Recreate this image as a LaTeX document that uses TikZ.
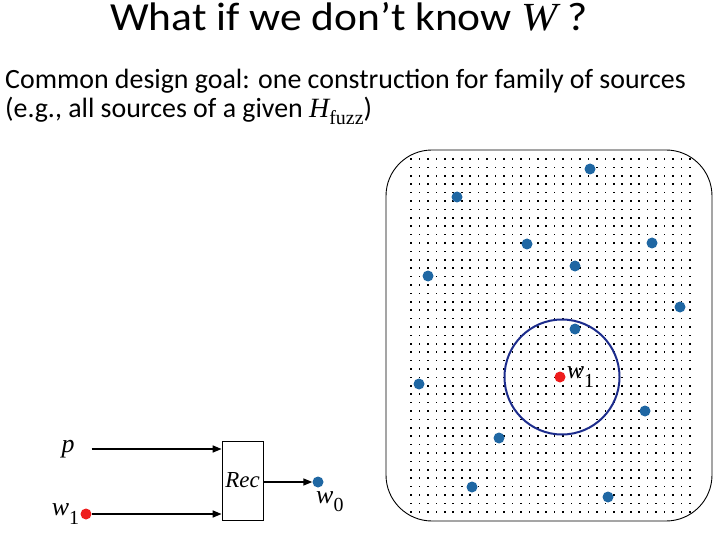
\documentclass[tikz,border=0pt]{standalone}
\usepackage{fontspec}
\setmainfont{Carlito}
\newfontfamily\tnr{Liberation Serif}
\usepackage{xcolor}
\usetikzlibrary{arrows.meta,positioning}
\definecolor{ptblue}{HTML}{1F67A3}
\definecolor{ptred}{HTML}{EE1C1C}
\definecolor{navy}{HTML}{1C2C8C}
\newcommand{\mv}[1]{{\tnr\itshape #1}}
\newcommand{\wsub}[2]{{\tnr\itshape #1\raisebox{-0.32em}{\upshape\fontsize{20}{20}\selectfont #2}}}

\begin{document}
\begin{tikzpicture}[
  x=1bp, y=-1bp,
  pt/.style={circle, fill=ptblue, inner sep=0pt, minimum size=11bp},
  rpt/.style={circle, fill=ptred, inner sep=0pt, minimum size=11bp},
  lbl/.style={font=\fontsize{26}{26}\selectfont, inner sep=1bp},
  box/.style={draw, line width=0.8bp, minimum width=41bp, minimum height=79bp, inner sep=0pt},
  arr/.style={-{Triangle[length=9bp, width=7bp]}, line width=1.6bp}
]
\useasboundingbox (0,0) rectangle (720,540);
% --- heading and text ---
\node[anchor=base, font=\fontsize{40}{40}\selectfont, inner sep=0pt] (title) at (349,31)
  {\scalebox{1.09}[1]{What if we don’t know \mv{W} ?}};
\node[anchor=base west, font=\fontsize{28}{28}\selectfont, inner sep=0pt] (goal) at (5,89)
  {Common design goal: one construction for family of sources};
\node[anchor=base west, font=\fontsize{28}{28}\selectfont, inner sep=0pt] (eg) at (5,118)
  {(e.g., all sources of a given \mv{H}\raisebox{-0.25em}{\tnr\fontsize{20}{20}\selectfont fuzz})};
% --- space of points ---
\draw[line width=0.9bp, rounded corners=46bp] (386,150) rectangle (712,521);
\foreach \i in {0,...,33}
  \foreach \j in {0,...,42}
    \fill (411+8.45*\i, 159+8.4*\j) +(-0.8bp,-0.8bp) rectangle +(0.8bp,0.8bp);
\draw[navy, line width=2bp] (562,377) circle (57.5bp);
\node[pt] (c1) at (590,169) {};
\node[pt] (c2) at (457,197) {};
\node[pt] (c3) at (527,244) {};
\node[pt] (c4) at (652,243) {};
\node[pt] (c5) at (575,266) {};
\node[pt] (c6) at (428,276) {};
\node[pt] (c7) at (680,307) {};
\node[pt] (c8) at (575,329) {};
\node[pt] (c9) at (419,384) {};
\node[pt] (c10) at (645,411) {};
\node[pt] (c11) at (499,438) {};
\node[pt] (c12) at (472,487) {};
\node[pt] (c13) at (608,497) {};
\node[rpt] (w1) at (560,377) {};
\node[lbl, right=0bp of w1] (w1lbl) {\wsub{w}{1}};
% --- recovery ---
\node[box] (rec) at (242.5,480.5) {\mv{\fontsize{23}{23}\selectfont Rec}};
\node[lbl] (p) at (68,449) {\mv{p}};
\node[rpt] (w1in) at (86,514) {};
\node[lbl, left=0bp of w1in] (w1inlbl) {\wsub{w}{1}};
\node[pt] (w0) at (318,482) {};
\node[lbl, below right=4bp and -7bp of w0] (w0lbl) {\wsub{w}{0}};
\draw[arr] ([xshift=16bp]p.east) -- (p -| rec.west);
\draw[arr] (w1in) -- (w1in -| rec.west);
\draw[arr] (rec.east |- w0) -- (w0);
\end{tikzpicture}
\end{document}
